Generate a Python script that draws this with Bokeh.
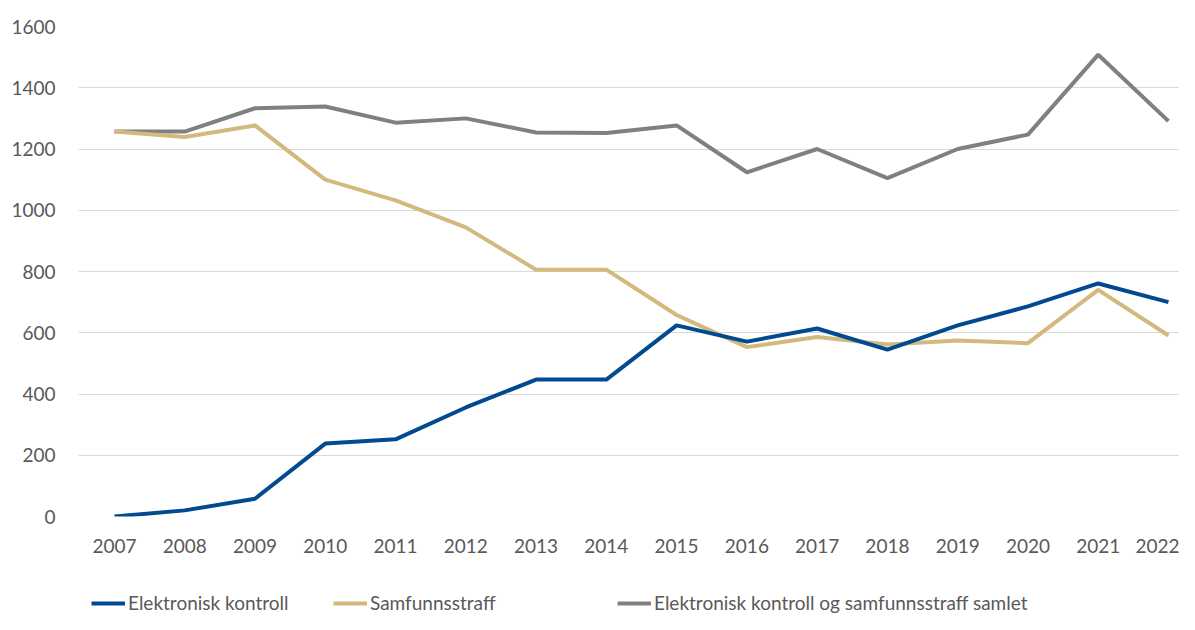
from bokeh.plotting import figure
from bokeh.layouts import column
from bokeh.models import Range1d, FixedTicker, Legend, LegendItem
from bokeh.embed import file_html
from bokeh.resources import INLINE

years = list(range(2007, 2023))
elektronisk = [0, 20, 58, 238, 252, 356, 447, 447, 624, 571, 614, 545, 624, 686, 761, 700]
samfunnsstraff = [1257, 1239, 1277, 1100, 1032, 944, 806, 806, 658, 553, 586, 562, 575, 566, 740, 591]
samlet = [1257, 1257, 1333, 1339, 1286, 1300, 1254, 1252, 1277, 1124, 1200, 1105, 1200, 1247, 1508, 1291]
y_ticks = [0, 200, 400, 600, 800, 1000, 1200, 1400, 1600]
names = ["Elektronisk kontroll", "Samfunnsstraff", "Elektronisk kontroll og samfunnsstraff samlet"]

BLUE = "#004A8F"
TAN = "#D3B97E"
GRAY = "#808080"
TXT = "#595959"
FONT = "Lato"
colors = [BLUE, TAN, GRAY]
series = [elektronisk, samfunnsstraff, samlet]

p = figure(width=1179, height=572, output_backend="svg", toolbar_location=None,
           x_range=Range1d(2006.488, 2022.157), y_range=Range1d(0, 1600))
p.min_border_left = 78
p.min_border_right = 0
p.min_border_top = 26
p.min_border_bottom = 56
p.outline_line_color = None
p.border_fill_color = "white"

p.xgrid.grid_line_color = None
p.ygrid.grid_line_color = "#D9D9D9"
p.ygrid.grid_line_width = 1

for ax in (p.xaxis[0], p.yaxis[0]):
    ax.axis_line_color = None
    ax.major_tick_line_color = None
    ax.minor_tick_line_color = None
    ax.major_tick_out = 0
    ax.major_tick_in = 0
    ax.minor_tick_out = 0
    ax.major_label_text_font = FONT
    ax.major_label_text_font_size = "19px"
    ax.major_label_text_color = TXT

p.xaxis[0].ticker = FixedTicker(ticks=years)
p.xaxis[0].major_label_standoff = 22
p.yaxis[0].ticker = FixedTicker(ticks=y_ticks)
p.yaxis[0].major_label_standoff = 23

p.line(years, samlet, line_color=GRAY, line_width=4)
p.line(years, samfunnsstraff, line_color=TAN, line_width=4)
p.line(years, elektronisk, line_color=BLUE, line_width=4)

# legend strip below the chart (its renderers lie outside its visible range)
lf = figure(width=1179, height=42, output_backend="svg", toolbar_location=None,
            x_range=Range1d(0, 1), y_range=Range1d(-1, 0))
lf.min_border_left = 78
lf.min_border_right = 0
lf.min_border_top = 0
lf.min_border_bottom = 0
lf.outline_line_color = None
lf.axis.visible = False
lf.grid.visible = False
lf.border_fill_color = "white"

for name, col, vals, x in zip(names, colors, series, (13, 255, 539)):
    r = lf.line(years, vals, line_color=col, line_width=4)
    lg = Legend(items=[LegendItem(label=name, renderers=[r])], location=(x, 0),
                orientation="horizontal", glyph_width=34, glyph_height=20,
                label_standoff=3, padding=0, margin=0, spacing=0,
                border_line_color=None, background_fill_alpha=0,
                label_text_font=FONT, label_text_font_size="19px",
                label_text_color=TXT, label_height=20)
    lf.add_layout(lg, "center")

layout = column(p, lf, spacing=0)
open("out.html", "w").write(file_html(layout, INLINE))
